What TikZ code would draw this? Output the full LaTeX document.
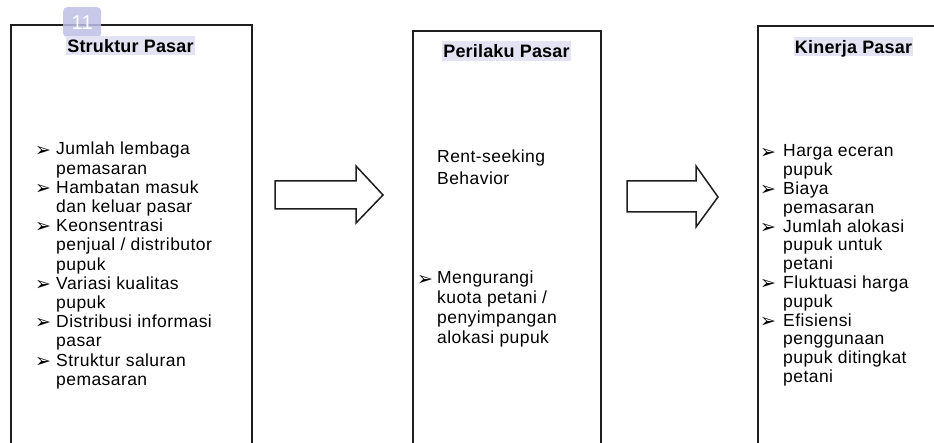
\documentclass[tikz,border=0pt]{standalone}
\usepackage{fontspec}
\setmainfont{Liberation Sans}[LetterSpace=2.5]
\newfontfamily\bulfont{DejaVu Sans}
\newfontfamily\titlefont{Liberation Sans}[LetterSpace=1]
\definecolor{hl}{RGB}{227,227,243}
\definecolor{badge}{RGB}{190,190,228}
\definecolor{ln}{RGB}{30,30,30}
\newcommand\bulw[1]{\makebox[#1][l]{\raisebox{-1.2pt}{\bulfont\fontsize{19}{19}\selectfont ➢}}}
\tikzset{
  box/.style={draw=ln, line width=1.8pt, anchor=north west, inner sep=0pt},
  ttl/.style={anchor=base, fill=hl, inner sep=0pt, inner xsep=1pt, text height=17pt, text depth=2pt,
    font=\titlefont\bfseries\fontsize{18}{20}\selectfont},
  lst/.style={anchor=base west, inner sep=0pt},
  blockarrow/.style={draw=ln, line width=1.5pt, fill=white, line join=miter}
}
\begin{document}
\begin{tikzpicture}[x=1pt,y=-1pt]
\useasboundingbox (0,0) rectangle (934,443);
\clip (0,0) rectangle (934,443);
% boxes
\node[box, minimum width=241pt, minimum height=440pt] (b1) at (10,24) {};
\node[box, minimum width=188pt, minimum height=440pt] (b2) at (412,30) {};
\node[box, minimum width=200pt, minimum height=440pt] (b3) at (757,25) {};
% badge
\node[anchor=north west, fill=badge, fill opacity=0.85, text opacity=1, rounded corners=4pt,
  minimum width=38pt, minimum height=30pt, inner sep=0pt, text=white,
  font=\fontsize{20}{20}\selectfont] (bd) at (63,7) {11};
% titles
\node[ttl] (t1) at (130.5,53) {Struktur Pasar};
\node[ttl, text depth=3pt] (t2) at (506.5,58) {Perilaku Pasar};
\node[ttl] (t3) at (853.5,54) {Kinerja Pasar};
% lists
\node[lst] (l1) at (35,155) {\fontsize{17.5}{19.2}\selectfont
\begin{tabular}[t]{@{}l@{}}
\bulw{21pt}Jumlah lembaga\\
\hspace*{21pt}pemasaran\\
\bulw{21pt}Hambatan masuk\\
\hspace*{21pt}dan keluar pasar\\
\bulw{21pt}Keonsentrasi\\
\hspace*{21pt}penjual / distributor\\
\hspace*{21pt}pupuk\\
\bulw{21pt}Variasi kualitas\\
\hspace*{21pt}pupuk\\
\bulw{21pt}Distribusi informasi\\
\hspace*{21pt}pasar\\
\bulw{21pt}Struktur saluran\\
\hspace*{21pt}pemasaran
\end{tabular}};
\node[lst] (r2) at (437,163) {\fontsize{17.5}{22}\selectfont
\begin{tabular}[t]{@{}l@{}}
Rent-seeking\\
Behavior
\end{tabular}};
\node[lst] (l2) at (417,284) {\fontsize{17.5}{20}\selectfont
\begin{tabular}[t]{@{}l@{}}
\bulw{20pt}Mengurangi\\
\hspace*{20pt}kuota petani /\\
\hspace*{20pt}penyimpangan\\
\hspace*{20pt}alokasi pupuk
\end{tabular}};
\node[lst] (l3) at (760,157) {\fontsize{17.5}{18.8}\selectfont
\begin{tabular}[t]{@{}l@{}}
\bulw{23pt}Harga eceran\\
\hspace*{23pt}pupuk\\
\bulw{23pt}Biaya\\
\hspace*{23pt}pemasaran\\
\bulw{23pt}Jumlah alokasi\\
\hspace*{23pt}pupuk untuk\\
\hspace*{23pt}petani\\
\bulw{23pt}Fluktuasi harga\\
\hspace*{23pt}pupuk\\
\bulw{23pt}Efisiensi\\
\hspace*{23pt}penggunaan\\
\hspace*{23pt}pupuk ditingkat\\
\hspace*{23pt}petani
\end{tabular}};
% block arrows
\draw[blockarrow] (275,181) -- (356,181) -- (356,166) -- (383,195) -- (356,223) -- (356,209) -- (275,209) -- cycle;
\draw[blockarrow] (627,181) -- (696,181) -- (696,166) -- (718,197) -- (696,227) -- (696,212) -- (627,212) -- cycle;
\end{tikzpicture}
\end{document}
